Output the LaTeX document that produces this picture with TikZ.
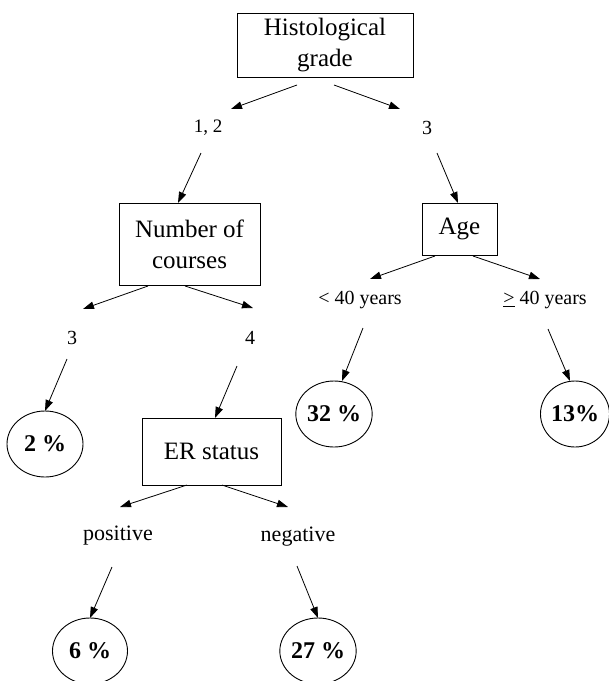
\documentclass[tikz,border=0pt]{standalone}
\usepackage{fontspec}
\setmainfont{Liberation Serif}
\usetikzlibrary{arrows.meta,shapes.geometric}
\begin{document}
\begin{tikzpicture}[x=1pt,y=-1pt,
  boxnode/.style={draw,line width=0.9pt,inner sep=0pt,align=center,font=\fontsize{25}{31}\selectfont},
  lbl/.style={inner sep=0pt,font=\fontsize{20}{24}\selectfont},
  lblbig/.style={inner sep=0pt,font=\fontsize{22}{26}\selectfont},
  pct/.style={draw,ellipse,line width=0.9pt,inner sep=0pt,font=\fontsize{24}{28}\selectfont\bfseries},
  arr/.style={line width=0.8pt,-{Triangle[length=11pt,width=7.5pt]}}]
\useasboundingbox (0,0) rectangle (609,681);
\begin{scope}
\clip (0,0) rectangle (609,681);
% boxes
\node[boxnode,minimum width=176pt,minimum height=64pt] (hg) at (325,45) {Histological\\grade};
\node[boxnode,minimum width=141pt,minimum height=82pt] (nc) at (189.5,244) {Number of\\courses};
\node[boxnode,minimum width=75pt,minimum height=52pt] (age) at (459.5,229) {Age};
\node[boxnode,minimum width=139pt,minimum height=67pt] (er) at (211.5,451.5) {ER status};
% labels
\node[lbl,font=\fontsize{19}{23}\selectfont] (l12) at (208,128) {1, 2};
\node[lbl] (l3) at (427,128) {3};
\node[lbl] (c3) at (72,338) {3};
\node[lbl] (c4) at (250,338) {4};
\node[lbl] (lt40) at (360,300) {< 40 years};
\node[lbl] (ge40) at (545,300) {\underline{>} 40 years};
\node[lblbig] (pos) at (118,536) {positive};
\node[lblbig] (neg) at (298,537) {negative};
% results
\node[pct,minimum width=76pt,minimum height=66pt] (p2) at (45,444) {2 \%};
\node[pct,minimum width=76pt,minimum height=66pt] (p32) at (334,414) {32 \%};
\node[pct,minimum width=69pt,minimum height=66pt] (p13) at (575,414) {13\%};
\node[pct,minimum width=75pt,minimum height=66pt] (p6) at (90,651) {6 \%};
\node[pct,minimum width=73pt,minimum height=66pt] (p27) at (318,651) {27 \%};
% connectors
\draw[arr] ([shift={(-28,40)}]hg.center) -- ([shift={(23,-19)}]l12.center);
\draw[arr] ([shift={(9,40)}]hg.center) -- ([shift={(-27,-19)}]l3.center);
\draw[arr] ([shift={(-7,25)}]l12.center) -- ([shift={(-11.5,-41)}]nc.center);
\draw[arr] ([shift={(10,25)}]l3.center) -- ([shift={(-1.5,-26)}]age.center);
\draw[arr] ([shift={(-41.5,42)}]nc.center) -- ([shift={(11,-29)}]c3.center);
\draw[arr] ([shift={(-4.5,42)}]nc.center) -- ([shift={(3,-30)}]c4.center);
\draw[arr] ([shift={(-24.5,27)}]age.center) -- ([shift={(10,-21)}]lt40.center);
\draw[arr] ([shift={(13.5,27)}]age.center) -- ([shift={(-5,-21)}]ge40.center);
\draw[arr] ([shift={(-5,21)}]c3.center) -- ([shift={(0,-33)}]p2.center);
\draw[arr] ([shift={(-13,28)}]c4.center) -- ([shift={(3.5,-33.5)}]er.center);
\draw[arr] ([shift={(3,28)}]lt40.center) -- ([shift={(8,-33)}]p32.center);
\draw[arr] ([shift={(3,29)}]ge40.center) -- ([shift={(-5,-33)}]p13.center);
\draw[arr] ([shift={(-24.5,33.5)}]er.center) -- ([shift={(2,-29)}]pos.center);
\draw[arr] ([shift={(10.5,33.5)}]er.center) -- ([shift={(-10,-30)}]neg.center);
\draw[arr] ([shift={(-6,31)}]pos.center) -- ([shift={(0,-33)}]p6.center);
\draw[arr] ([shift={(-1,29)}]neg.center) -- ([shift={(0,-33)}]p27.center);
\end{scope}
\end{tikzpicture}
\end{document}
